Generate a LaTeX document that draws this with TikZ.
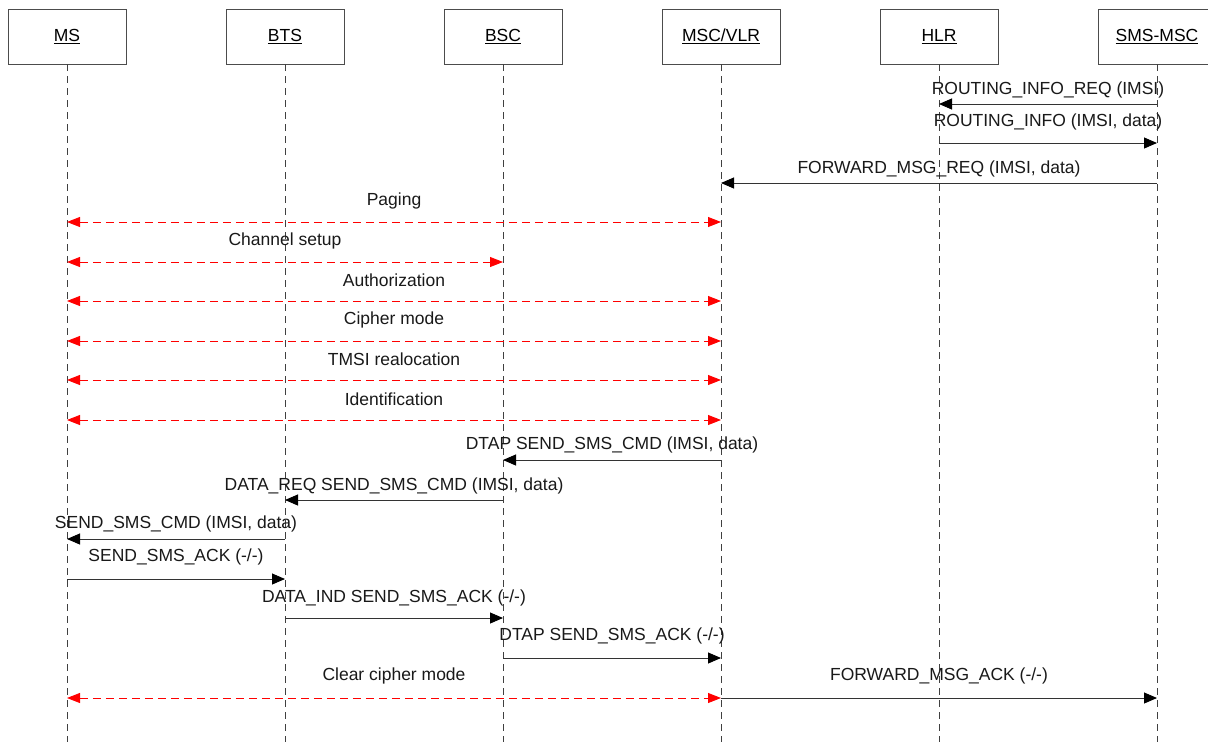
\documentclass[tikz,border=0pt]{standalone}
\usepackage{fontspec}
\setmainfont{Liberation Sans}
\usetikzlibrary{arrows.meta}
\begin{document}
\begin{tikzpicture}[x=1pt,y=-1pt,
  font=\fontsize{17.5}{20}\selectfont,
  entity/.style={draw=black!70,line width=0.9pt,minimum width=118pt,minimum height=55pt,inner sep=0pt,fill=white},
  lifeline/.style={draw=black!75,line width=0.9pt,dash pattern=on 7pt off 5pt},
  msg/.style={draw=black!80,line width=0.9pt,-{Triangle[length=13pt,width=11pt,color=black]}},
  dialog/.style={draw=red,line width=0.9pt,dash pattern=on 8pt off 5pt,
    {Triangle[length=13pt,width=10pt]}-{Triangle[length=13pt,width=10pt]}},
  lbl/.style={text=black!90,inner sep=0pt,yshift=-2pt}]
\useasboundingbox (0,0) rectangle (1208,742);
\fill[white] (0,0) rectangle (1208,742);

% participants
\foreach \n/\t/\x in {ms/MS/67, bts/BTS/285, bsc/BSC/503, msc/MSC\slash VLR/721, hlr/HLR/939, smsc/SMS-MSC/1157}{
  \node[entity] (\n) at (\x,36.5) {\underline{\t}};
  \coordinate (\n-end) at (\x,742);
  \draw[lifeline] (\n.south) -- (\n-end);
}

% SMS-MSC / HLR / MSC exchange
\draw[msg] (smsc |- 0,104) -- (hlr |- 0,104);
\node[lbl] at (1048,88) {ROUTING\_INFO\_REQ (IMSI)};
\draw[msg] (hlr |- 0,143) -- (smsc |- 0,143);
\node[lbl] at (1048,120) {ROUTING\_INFO (IMSI, data)};
\draw[msg] (smsc |- 0,183) -- (msc |- 0,183);
\node[lbl] at (939,167) {FORWARD\_MSG\_REQ (IMSI, data)};

% radio procedures
\draw[dialog] (ms |- 0,222) -- (msc |- 0,222);
\node[lbl] at (394,199) {Paging};
\draw[dialog] (ms |- 0,262) -- (bsc |- 0,262);
\node[lbl] at (285,239) {Channel setup};
\draw[dialog] (ms |- 0,301) -- (msc |- 0,301);
\node[lbl] at (394,278) {Authorization};
\draw[dialog] (ms |- 0,341) -- (msc |- 0,341);
\node[lbl] at (394,318) {Cipher mode};
\draw[dialog] (ms |- 0,380) -- (msc |- 0,380);
\node[lbl] at (394,357) {TMSI realocation};
\draw[dialog] (ms |- 0,420) -- (msc |- 0,420);
\node[lbl] at (394,397) {Identification};

% short message delivery
\draw[msg] (msc |- 0,460) -- (bsc |- 0,460);
\node[lbl] at (612,443) {DTAP SEND\_SMS\_CMD (IMSI, data)};
\draw[msg] (bsc |- 0,500) -- (bts |- 0,500);
\node[lbl] at (394,484) {DATA\_REQ SEND\_SMS\_CMD (IMSI, data)};
\draw[msg] (bts |- 0,539) -- (ms |- 0,539);
\node[lbl] at (176,522) {SEND\_SMS\_CMD (IMSI, data)};
\draw[msg] (ms |- 0,579) -- (bts |- 0,579);
\node[lbl] at (176,555) {SEND\_SMS\_ACK (-/-)};
\draw[msg] (bts |- 0,618) -- (bsc |- 0,618);
\node[lbl] at (394,596) {DATA\_IND SEND\_SMS\_ACK (-/-)};
\draw[msg] (bsc |- 0,658) -- (msc |- 0,658);
\node[lbl] at (612,634) {DTAP SEND\_SMS\_ACK (-/-)};

% release and acknowledgement
\draw[dialog] (ms |- 0,698) -- (msc |- 0,698);
\node[lbl] at (394,674) {Clear cipher mode};
\draw[msg] (msc |- 0,698) -- (smsc |- 0,698);
\node[lbl] at (939,674) {FORWARD\_MSG\_ACK (-/-)};
\end{tikzpicture}
\end{document}
